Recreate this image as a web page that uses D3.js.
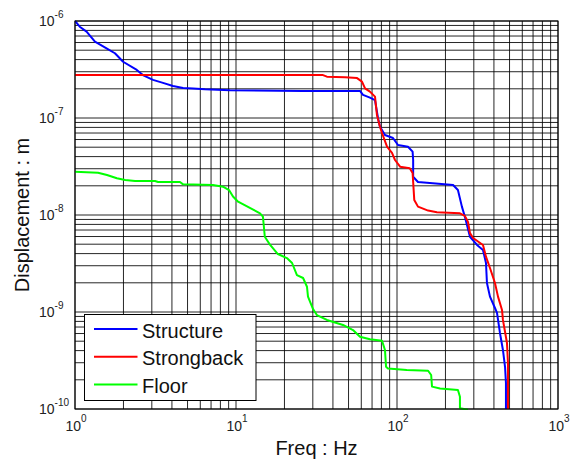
<!DOCTYPE html>
<html>
<head>
<meta charset="utf-8">
<script src="https://cdn.jsdelivr.net/npm/d3@7/dist/d3.min.js"></script>
<style>
  html, body { margin: 0; padding: 0; background: #fff; }
  svg { display: block; font-family: "Liberation Sans", Arial, sans-serif; }
</style>
</head>
<body>
<svg id="chart" width="573" height="460"></svg>
<script>
// ---- Data ----
const seriesNames = ["Structure", "Strongback", "Floor"];
const seriesColors = ["#0000ff", "#ff0000", "#00ff00"];

const freqStructure = [1, 1.07, 1.18, 1.33, 1.57, 1.77, 1.99, 2.42, 2.64, 3.05, 3.52, 4.06, 4.69, 5.41, 6.42, 9.18, 26.1, 58.9, 61.5, 67.9, 73.0, 76.2, 78.4, 84.2, 94.4, 101.4, 117, 125, 126, 126, 135, 160, 223, 239, 253, 264, 284, 314, 342, 357, 362, 378, 406, 418, 436, 455, 469, 475, 475];
const dispStructure = [1e-6, 8.73e-7, 7.76e-7, 6.12e-7, 5.23e-7, 4.65e-7, 3.80e-7, 3.13e-7, 2.77e-7, 2.47e-7, 2.30e-7, 2.14e-7, 2.04e-7, 2.02e-7, 1.98e-7, 1.93e-7, 1.90e-7, 1.90e-7, 1.73e-7, 1.62e-7, 1.53e-7, 1.00e-7, 8.13e-8, 6.68e-8, 6.22e-8, 5.27e-8, 5.06e-8, 4.50e-8, 3.69e-8, 2.48e-8, 2.19e-8, 2.14e-8, 2.04e-8, 1.81e-8, 1.22e-8, 9.6e-9, 5.97e-9, 4.91e-9, 4.36e-9, 3.20e-9, 1.99e-9, 1.44e-9, 1.10e-9, 9.8e-10, 6.08e-10, 4.06e-10, 2.71e-10, 1.85e-10, 1.0e-10];

const freqStrongback = [1, 34.7, 36.7, 47.5, 56.5, 60.6, 63.3, 67.9, 73.0, 75.1, 78.4, 80.7, 86.7, 93.1, 97.2, 104.5, 120, 125, 128, 135, 156, 177, 246, 264, 276, 284, 297, 342, 357, 378, 406, 424, 449, 455, 482, 489, 489];
const dispStrongback = [2.77e-7, 2.77e-7, 2.67e-7, 2.63e-7, 2.58e-7, 2.37e-7, 2.02e-7, 1.87e-7, 1.66e-7, 1.07e-7, 8.13e-8, 7.0e-8, 5.06e-8, 4.36e-8, 3.69e-8, 3.15e-8, 3.03e-8, 2.71e-8, 1.43e-8, 1.22e-8, 1.11e-8, 1.07e-8, 1.04e-8, 9.8e-9, 8.5e-9, 6.5e-9, 5.8e-9, 4.91e-9, 3.72e-9, 2.84e-9, 1.99e-9, 1.44e-9, 1.05e-9, 8.28e-10, 4.79e-10, 2.98e-10, 1.0e-10];

const freqFloor = [1, 1.39, 1.58, 1.82, 2.05, 2.36, 3.14, 3.28, 4.49, 4.69, 7.19, 8.30, 9.05, 9.58, 10.3, 14.1, 14.7, 15.1, 16.3, 18.2, 20.7, 22.3, 23.9, 26.1, 27.6, 28.0, 30.1, 31.8, 36.7, 46.2, 53.3, 58.9, 67.9, 80.7, 84.2, 85.5, 87.9, 115, 156, 163, 165, 185, 239, 246, 246, 276];
const dispFloor = [2.79e-8, 2.73e-8, 2.58e-8, 2.39e-8, 2.30e-8, 2.24e-8, 2.24e-8, 2.19e-8, 2.19e-8, 2.07e-8, 2.04e-8, 1.96e-8, 1.81e-8, 1.55e-8, 1.37e-8, 1.04e-8, 9.6e-9, 5.97e-9, 4.91e-9, 3.96e-9, 3.60e-9, 3.20e-9, 2.40e-9, 2.24e-9, 1.82e-9, 1.44e-9, 1.07e-9, 9.3e-10, 8.28e-10, 7.35e-10, 6.52e-10, 5.56e-10, 5.23e-10, 5.06e-10, 4.06e-10, 2.73e-10, 2.62e-10, 2.52e-10, 2.48e-10, 2.24e-10, 1.70e-10, 1.63e-10, 1.57e-10, 1.34e-10, 1.02e-10, 0.98e-10];

const xTickExponents = [0, 1, 2, 3];
const yTickExponents = [-6, -7, -8, -9, -10];
const xLabel = "Freq : Hz";
const yLabel = "Displacement : m";

// ---- Layout ----
const W = 573, H = 460;
const pLeft = 75, pRight = 558, pTop = 21, pBottom = 409;

const svg = d3.select("#chart");
const x = d3.scaleLog().domain([1, 1000]).range([pLeft, pRight]);
const y = d3.scaleLog().domain([1e-10, 1e-6]).range([pBottom, pTop]);

// ---- Grid (major + minor) ----
const xGrid = [];
for (let e = 0; e < 3; e++) for (let m = 1; m <= 9; m++) xGrid.push(m * Math.pow(10, e));
xGrid.push(1000);
const yGrid = [];
for (let e = -10; e < -6; e++) for (let m = 1; m <= 9; m++) yGrid.push(m * Math.pow(10, e));
yGrid.push(1e-6);

const grid = svg.append("g").attr("class", "grid");
grid.selectAll("line.vx").data(xGrid).join("line")
  .attr("class", "vx")
  .attr("x1", d => x(d)).attr("x2", d => x(d))
  .attr("y1", pTop).attr("y2", pBottom)
  .attr("stroke", "#000").attr("stroke-width", 1).attr("stroke-opacity", 0.85);
grid.selectAll("line.hy").data(yGrid).join("line")
  .attr("class", "hy")
  .attr("y1", d => y(d)).attr("y2", d => y(d))
  .attr("x1", pLeft).attr("x2", pRight)
  .attr("stroke", "#000").attr("stroke-width", 1).attr("stroke-opacity", 0.85);

// ---- Data lines ----
svg.append("clipPath").attr("id", "clip")
  .append("rect").attr("x", pLeft).attr("y", pTop - 1)
  .attr("width", pRight - pLeft).attr("height", pBottom - pTop + 2);

const series = [
  { name: seriesNames[0], color: seriesColors[0], f: freqStructure, d: dispStructure },
  { name: seriesNames[1], color: seriesColors[1], f: freqStrongback, d: dispStrongback },
  { name: seriesNames[2], color: seriesColors[2], f: freqFloor, d: dispFloor }
];
const line = d3.line().x(p => x(p[0])).y(p => y(p[1]));
const lines = svg.append("g").attr("clip-path", "url(#clip)");
series.forEach(s => {
  const pts = s.f.map((f, i) => [f, s.d[i]]);
  lines.append("path").datum(pts)
    .attr("d", line)
    .attr("fill", "none")
    .attr("stroke", s.color)
    .attr("stroke-width", 2)
    .attr("stroke-linejoin", "round");
});

// ---- Axes box ----
svg.append("rect").attr("x", pLeft).attr("y", pTop)
  .attr("width", pRight - pLeft).attr("height", pBottom - pTop)
  .attr("fill", "none").attr("stroke", "#000").attr("stroke-width", 1);

// ---- Tick labels ----
const xt = svg.append("g").attr("font-size", 14).attr("fill", "#222");
xTickExponents.forEach(e => {
  const t = xt.append("text")
    .attr("x", x(Math.pow(10, e)) + 1)
    .attr("y", 431)
    .attr("text-anchor", "middle");
  t.append("tspan").text("10");
  t.append("tspan").attr("font-size", 10).attr("dy", -9).text(String(e));
});
const yt = svg.append("g").attr("font-size", 14).attr("fill", "#222");
yTickExponents.forEach(e => {
  const t = yt.append("text")
    .attr("x", 39)
    .attr("y", y(Math.pow(10, e)) + 5)
    .attr("text-anchor", "start");
  t.append("tspan").text("10");
  t.append("tspan").attr("font-size", 10).attr("dy", -8).text(String(e));
});

// ---- Axis labels ----
svg.append("text")
  .attr("x", (pLeft + pRight) / 2).attr("y", 455)
  .attr("text-anchor", "middle").attr("font-size", 20).attr("fill", "#111")
  .text(xLabel);
svg.append("text")
  .attr("transform", `translate(29,${(pTop + pBottom) / 2}) rotate(-90)`)
  .attr("text-anchor", "middle").attr("font-size", 20).attr("fill", "#111")
  .text(yLabel);

// ---- Legend ----
const lg = svg.append("g");
lg.append("rect").attr("x", 84.5).attr("y", 314.5)
  .attr("width", 171.5).attr("height", 86)
  .attr("fill", "#fff").attr("stroke", "#000").attr("stroke-width", 1);
series.forEach((s, i) => {
  const cy = 329 + i * 27.7;
  lg.append("line").attr("x1", 94).attr("x2", 137.5)
    .attr("y1", cy).attr("y2", cy)
    .attr("stroke", s.color).attr("stroke-width", 2);
  lg.append("text").attr("x", 142).attr("y", cy + 8.5)
    .attr("font-size", 20).attr("fill", "#111")
    .text(s.name);
});
</script>
</body>
</html>
